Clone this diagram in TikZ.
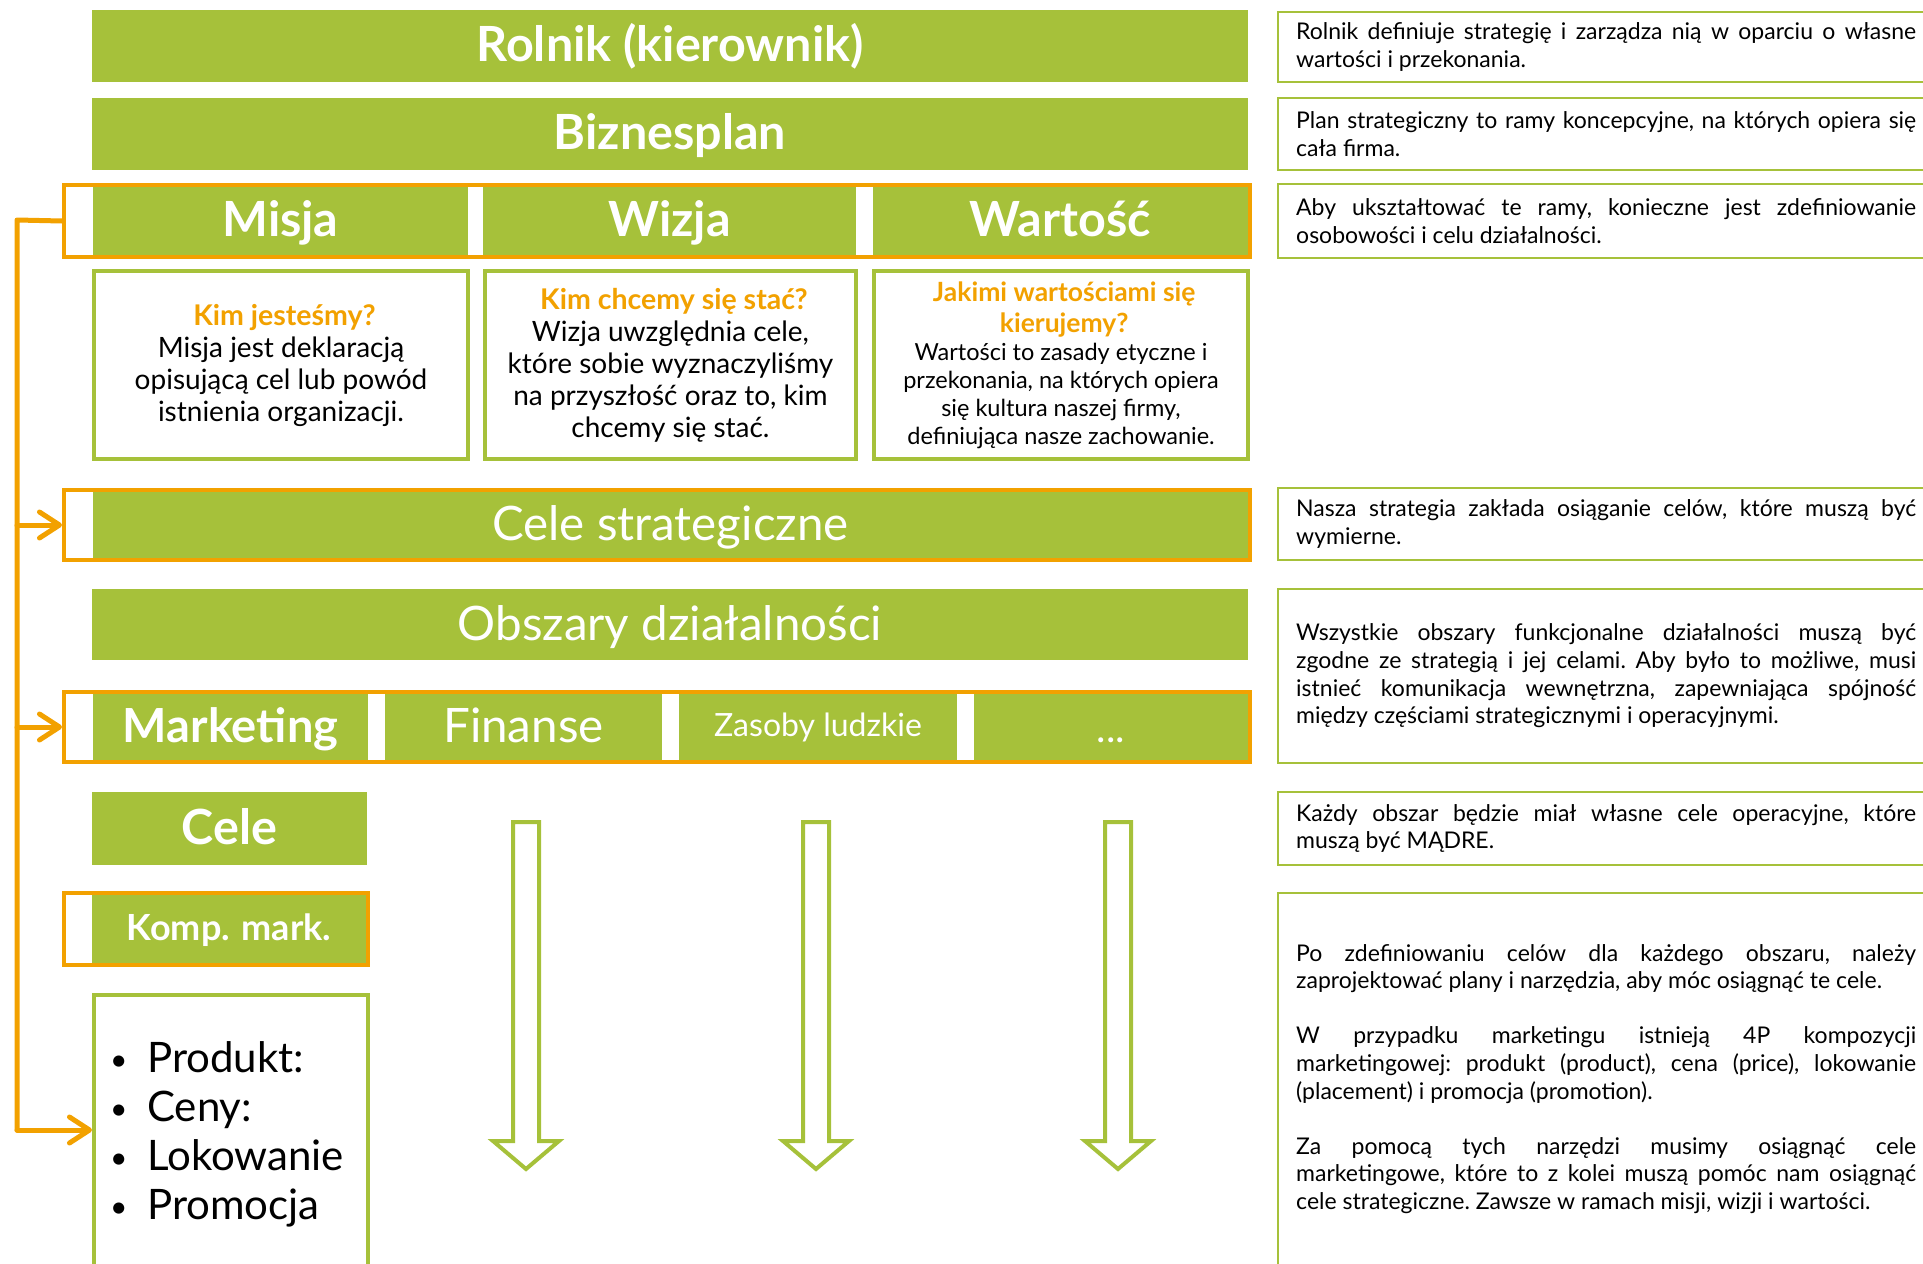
\documentclass[tikz,border=0pt]{standalone}
\usepackage{fontspec}
\setmainfont{Lato}
\usetikzlibrary{arrows.meta}
\definecolor{gr}{RGB}{166,193,58}
\definecolor{og}{RGB}{242,161,0}
\newcommand{\fs}[2]{\fontsize{#1}{#2}\selectfont}
\newcommand{\ns}{\frenchspacing\spaceskip=\fontdimen2\font\relax\xspaceskip=\fontdimen2\font\relax}
\newcommand{\jl}[1]{{\spaceskip=\fontdimen2\font plus 1fil\relax\makebox[620pt][s]{#1}}\\}
\newcommand{\bl}{\makebox[37pt][l]{\raisebox{2pt}{\fs{30}{49}•}}}
\tikzset{
  bar/.style={fill=gr, text=white, inner sep=0pt},
  hb/.style={font=\bfseries\fs{48.5}{56}, text height=38pt, text depth=7pt},
  hr/.style={font=\fs{47.5}{56}, text height=37pt, text depth=6pt},
  oframe/.style={draw=og, line width=4pt, fill=white, inner sep=0pt},
  gbox/.style={draw=gr, line width=4pt, fill=white, inner sep=0pt, align=center},
  note/.style={text width=620pt, align=left, inner sep=0pt, anchor=west, font=\fs{23}{27.6}},
  nline/.style={draw=gr, line width=2.5pt},
  oline/.style={draw=og, line width=5pt, line cap=round, line join=round},
  otip/.style={-{Straight Barb[length=20pt,width=26pt,round]}},
  garrow/.style={draw=gr, line width=4pt, fill=white},
}
\begin{document}
\begin{tikzpicture}[x=1pt,y=-1pt]
\useasboundingbox (0,0) rectangle (1923,1264);

% top bars
\node[bar, hb, minimum width=1156pt, minimum height=72pt] (rolnik) at (670,46) {Rolnik (kierownik)};
\node[bar, hb, minimum width=1156pt, minimum height=72pt] (biznes) at (670,134) {Biznesplan};

% Misja / Wizja / Wartosc row
\node[oframe, minimum width=1186pt, minimum height=72pt] (mwwfr) at (657,221) {};
\node[bar, hb, minimum width=375pt, minimum height=68pt] (misja) at (280.5,221) {Misja};
\node[bar, hb, minimum width=373pt, minimum height=68pt] (wizja) at (669.5,221) {Wizja};
\node[bar, hb, minimum width=375pt, minimum height=68pt] (wartosc) at (1060.5,221) {Wartość};

% content boxes
\node[gbox, minimum width=374pt, minimum height=188pt, font=\fs{28}{32}] (misjabox) at (281,365)
  {{\color{og}\bfseries\fs{28.5}{32} Kim jesteśmy?}\\Misja jest deklaracją\\opisującą cel lub powód\\istnienia organizacji.};
\node[gbox, minimum width=371pt, minimum height=188pt, font=\fs{28}{32}] (wizjabox) at (670.5,365)
  {{\color{og}\bfseries\fs{28.5}{32} Kim chcemy się stać?}\\Wizja uwzględnia cele,\\które sobie wyznaczyliśmy\\na przyszłość oraz to, kim\\chcemy się stać.};
\node[gbox, minimum width=374pt, minimum height=188pt, font=\fs{23.5}{28}] (wartoscbox) at (1061,365)
  {{\color{og}\bfseries\fs{26.5}{28} Jakimi wartościami się}\\[2.7pt]{\color{og}\bfseries\fs{26.5}{28} kierujemy?}\\Wartości to zasady etyczne i\\przekonania, na których opiera\\się kultura naszej firmy,\\definiująca nasze zachowanie.};

% Cele strategiczne
\node[oframe, minimum width=1186pt, minimum height=70pt] (celefr) at (657,525) {};
\node[bar, hr, minimum width=1155pt, minimum height=66pt] (celestr) at (670.5,525) {Cele strategiczne};

% Obszary
\node[bar, hr, minimum width=1156pt, minimum height=71pt] (obszary) at (670,624.5) {Obszary działalności};

% Marketing row
\node[oframe, minimum width=1186pt, minimum height=70pt] (mktfr) at (657,727) {};
\node[bar, hb, font=\bfseries\fs{47}{56}, minimum width=275pt, minimum height=66pt] (mkt) at (230.5,727) {Marketing};
\node[bar, hr, minimum width=277pt, minimum height=66pt] (fin) at (523.5,727) {Finanse};
\node[bar, font=\fs{32}{38}, text height=24pt, text depth=6pt, minimum width=278pt, minimum height=66pt] (zas) at (818,727) {Zasoby ludzkie};
\node[bar, minimum width=274pt, minimum height=66pt] (dots) at (1111,727) {};
\node[text=white, font=\fs{40}{48}, inner sep=0pt, anchor=base] (dotstxt) at (1111,742) {...};

% Cele / Komp. mark.
\node[bar, hb, minimum width=275pt, minimum height=73pt] (cele) at (229.5,828.5) {Cele};
\node[oframe, minimum width=304pt, minimum height=72pt] (kompfr) at (216,929) {};
\node[bar, font=\bfseries\fs{36}{42}, text height=28pt, text depth=6pt, minimum width=274pt, minimum height=68pt] (komp) at (229,929) {Komp. mark.};

% bullet box
\draw[draw=gr, line width=4pt] (94,1270) -- (94,995) -- (368,995) -- (368,1270);
\node[inner sep=0pt, anchor=west, align=left, font=\fs{42}{49}] (bullets) at (110,1134)
  {\bl Produkt:\\\bl Ceny:\\\bl Lokowanie\\\bl Promocja};

% green hollow arrows
\foreach \c in {526,816,1118}{
  \draw[garrow] ({\c-13},822) -- ({\c+13},822) -- ({\c+13},1141) -- ({\c+33},1141)
    -- (\c,1169) -- ({\c-33},1141) -- ({\c-13},1141) -- cycle;
}

% orange connector
\coordinate (ltop) at (17,220);
\coordinate (lbot) at (17,1130);
\coordinate (bbl) at (92,1130);
\coordinate (j1) at (ltop |- celefr.west);
\coordinate (j2) at (ltop |- mktfr.west);
\draw[oline] (mwwfr.west) -- (ltop) -- (lbot);
\draw[oline, otip] (lbot) -- (bbl);
\draw[oline, otip] (j1) -- (celefr.west);
\draw[oline, otip] (j2) -- (mktfr.west);

% right notes
\draw[nline] (1923,12) -- (1278,12) -- (1278,82) -- (1923,82);
\node[note] (n1) at (1296,47) {\ns\jl{Rolnik definiuje strategię i zarządza nią w oparciu o własne}wartości i przekonania.};
\draw[nline] (1923,98) -- (1278,98) -- (1278,170) -- (1923,170);
\node[note] (n2) at (1296,134) {\ns\jl{Plan strategiczny to ramy koncepcyjne, na których opiera się}cała firma.};
\draw[nline] (1923,184) -- (1278,184) -- (1278,258) -- (1923,258);
\node[note] (n3) at (1296,221) {\ns\jl{Aby ukształtować te ramy, konieczne jest zdefiniowanie}osobowości i celu działalności.};
\draw[nline] (1923,488) -- (1278,488) -- (1278,560) -- (1923,560);
\node[note] (n4) at (1296,524) {\ns\jl{Nasza strategia zakłada osiąganie celów, które muszą być}wymierne.};
\draw[nline] (1923,589) -- (1278,589) -- (1278,763) -- (1923,763);
\node[note] (n5) at (1296,676) {\ns\jl{Wszystkie obszary funkcjonalne działalności muszą być}\jl{zgodne ze strategią i jej celami. Aby było to możliwe, musi}\jl{istnieć komunikacja wewnętrzna, zapewniająca spójność}między częściami strategicznymi i operacyjnymi.};
\draw[nline] (1923,792) -- (1278,792) -- (1278,865) -- (1923,865);
\node[note] (n6) at (1296,828.5) {\ns\jl{Każdy obszar będzie miał własne cele operacyjne, które}muszą być MĄDRE.};
\draw[nline] (1923,893) -- (1278,893) -- (1278,1264);
\node[note] (n7) at (1296,1079) {\ns\jl{Po zdefiniowaniu celów dla każdego obszaru, należy}zaprojektować plany i narzędzia, aby móc osiągnąć te cele.\\[27.6pt]\jl{W przypadku marketingu istnieją 4P kompozycji}\jl{marketingowej: produkt (product), cena (price), lokowanie}(placement) i promocja (promotion).\\[27.6pt]\jl{Za pomocą tych narzędzi musimy osiągnąć cele}\jl{marketingowe, które to z kolei muszą pomóc nam osiągnąć}cele strategiczne. Zawsze w ramach misji, wizji i wartości.};
\end{tikzpicture}
\end{document}
